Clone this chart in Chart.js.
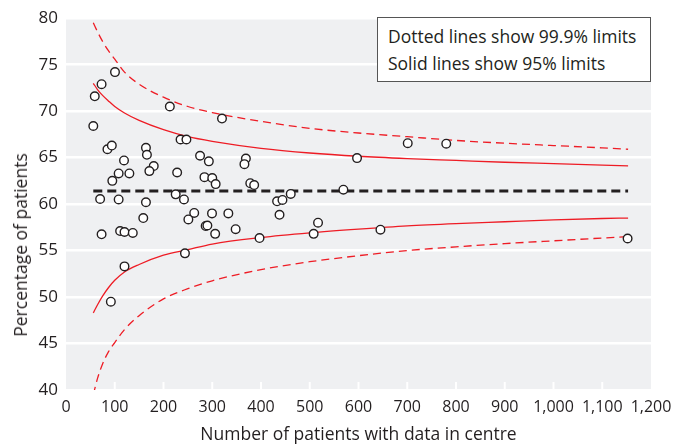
<!DOCTYPE html>
<html>
<head>
<meta charset="utf-8">
<script src="https://cdn.jsdelivr.net/npm/chart.js@4.4.1/dist/chart.umd.min.js"></script>
<style>
  body { margin: 0; background: #fff; }
  #wrap { position: relative; width: 673px; height: 446px; font-family: "Open Sans", sans-serif; color: #231f20; }
  #note {
    position: absolute; left: 377px; top: 17px; width: 262px; height: 58px;
    padding: 5px 0 0 10px; border: 1px solid #555; background: #fff;
    font-size: 17.5px; line-height: 27px;
  }
  #ytitle {
    position: absolute; left: 20px; top: 245px; white-space: nowrap;
    font-size: 17.5px; transform: translate(-50%, -50%) rotate(-90deg);
  }
</style>
</head>
<body>
<div id="wrap">
  <canvas id="funnel" width="673" height="446"></canvas>
  <div id="note">Dotted lines show 99.9% limits<br>Solid lines show 95% limits</div>
  <div id="ytitle">Percentage of patients</div>
</div>
<script>
// centres: number of patients and percentage
let centreN = [100.5, 73, 59, 213, 320, 56, 235, 247, 85, 94, 164, 166, 119, 275, 293, 369, 366, 180, 171, 108,
  130, 228, 95, 284, 300, 307, 378, 386, 70, 108, 164, 225, 242, 263, 299.5, 333, 251, 158.5, 286.5, 290,
  348, 73, 111, 120, 137, 306, 397, 244, 120, 92, 597, 461, 433, 444, 569, 438, 517, 508, 645, 701, 780, 1152];
let centrePct = [74.2, 72.9, 71.6, 70.5, 69.2, 68.4, 66.95, 66.95, 65.9, 66.3, 66.05, 65.3, 64.7, 65.2, 64.6, 64.9, 64.3, 64.1, 63.55, 63.3,
  63.3, 63.4, 62.5, 62.9, 62.8, 62.15, 62.25, 62.05, 60.55, 60.5, 60.2, 61.05, 60.5, 59.05, 59.0, 59.0, 58.35, 58.5, 57.65, 57.7,
  57.3, 56.75, 57.1, 57.0, 56.9, 56.8, 56.35, 54.7, 53.3, 49.5, 64.95, 61.1, 60.3, 60.45, 61.55, 58.85, 58.0, 56.8, 57.25, 66.55, 66.5, 56.3];

// control limits
let limitN = [56, 65, 75, 87, 100, 120, 150, 200, 250, 300, 400, 500, 600, 700, 800, 900, 1000, 1100, 1153];
let upper999 = [79.5, 78.5, 77.5, 76.5, 75.6, 74.2, 72.9, 71.5, 70.5, 69.85, 68.9, 68.15, 67.65, 67.25, 66.85, 66.55, 66.3, 66.05, 65.9];
let upper95 = [73.0, 72.3, 71.7, 71.1, 70.5, 69.8, 69.0, 68.0, 67.25, 66.75, 66.0, 65.5, 65.15, 64.9, 64.7, 64.5, 64.35, 64.2, 64.12];
let lower95 = [48.3, 49.2, 50.1, 51.0, 51.8, 52.7, 53.5, 54.5, 55.1, 55.7, 56.4, 56.9, 57.3, 57.65, 57.9, 58.1, 58.3, 58.45, 58.5];
let lower999 = [39.5, 41.3, 42.8, 44.1, 45.1, 46.5, 48.0, 49.8, 50.9, 51.75, 52.95, 53.8, 54.45, 55.0, 55.4, 55.75, 56.05, 56.35, 56.5];

// overall mean
let meanN = [56, 1153];
let meanPct = [61.4, 61.4];

let xTicks = [0, 100, 200, 300, 400, 500, 600, 700, 800, 900, 1000, 1100, 1200];

function pairs(xs, ys) {
  return xs.map((x, i) => ({ x: x, y: ys[i] }));
}

function limitLine(ys, dashed) {
  return {
    data: pairs(limitN, ys),
    showLine: true,
    borderColor: '#ee1c25',
    borderWidth: 1.3,
    borderDash: dashed ? [8, 5] : [],
    pointRadius: 0,
    cubicInterpolationMode: 'monotone',
    fill: false
  };
}

// gray plot background and small white x ticks inside the plot
const plotBg = {
  id: 'plotBg',
  beforeDraw(chart) {
    const a = chart.chartArea, ctx = chart.ctx;
    ctx.save();
    ctx.fillStyle = '#eff0f2';
    ctx.fillRect(a.left, a.top, a.right - a.left, a.bottom - a.top);
    ctx.restore();
  },
  afterDraw(chart) {
    const a = chart.chartArea, ctx = chart.ctx, xs = chart.scales.x;
    ctx.save();
    ctx.strokeStyle = '#ffffff';
    ctx.lineWidth = 2;
    xTicks.slice(1, -1).forEach(t => {
      const px = xs.getPixelForValue(t);
      ctx.beginPath();
      ctx.moveTo(px, a.bottom - 8);
      ctx.lineTo(px, a.bottom);
      ctx.stroke();
    });
    ctx.restore();
  }
};

let ctx = document.getElementById('funnel').getContext('2d');

let chart = new Chart(ctx, {
  type: 'scatter',
  data: {
    datasets: [
      {
        data: pairs(centreN, centrePct),
        pointRadius: 4.3,
        pointBackgroundColor: '#ffffff',
        pointBorderColor: '#231f20',
        pointBorderWidth: 1.4
      },
      {
        data: pairs(meanN, meanPct),
        showLine: true,
        borderColor: '#231f20',
        borderWidth: 3,
        borderDash: [9, 5],
        pointRadius: 0
      },
      limitLine(upper95, false),
      limitLine(lower95, false),
      limitLine(upper999, true),
      limitLine(lower999, true)
    ]
  },
  options: {
    responsive: false,
    devicePixelRatio: 1,
    animation: false,
    layout: { padding: { top: 17, right: 22, left: 0, bottom: 0 } },
    plugins: { legend: { display: false }, tooltip: { enabled: false } },
    scales: {
      x: {
        type: 'linear',
        min: 0,
        max: 1200,
        afterBuildTicks: s => { s.ticks = xTicks.map(v => ({ value: v })); },
        afterFit: s => { s.height = 56; },
        grid: { display: false },
        border: { display: false },
        ticks: { color: '#231f20', font: { family: 'Open Sans', size: 16 }, padding: 0, maxRotation: 0, autoSkip: false },
        title: { display: true, text: 'Number of patients with data in centre', color: '#231f20',
          font: { family: 'Open Sans', size: 17.5 }, padding: { top: 0, bottom: 0 } }
      },
      y: {
        min: 40,
        max: 80,
        ticks: { stepSize: 5, color: '#231f20', font: { family: 'Open Sans', size: 17 }, padding: 8 },
        afterFit: s => { s.width = 66; },
        grid: { color: '#ffffff', lineWidth: 2.5, drawTicks: false },
        border: { display: false }
      }
    }
  },
  plugins: [plotBg]
});
</script>
</body>
</html>
